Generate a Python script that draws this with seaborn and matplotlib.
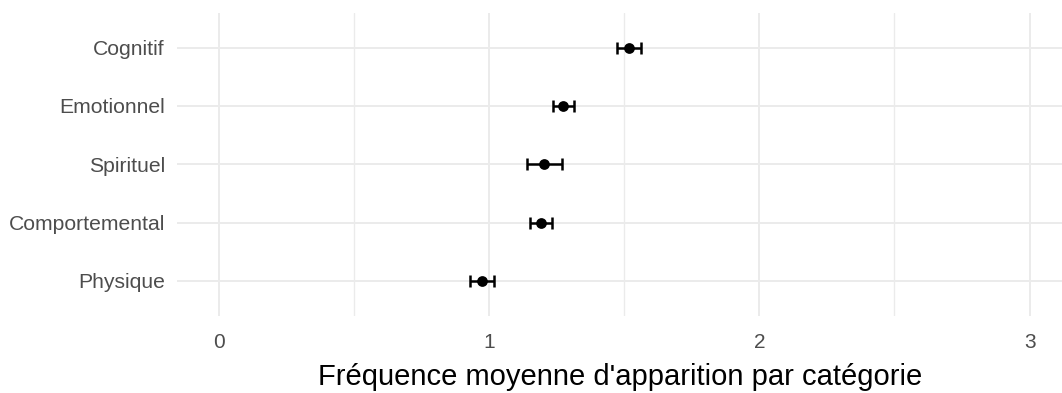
import matplotlib
matplotlib.use("Agg")
import matplotlib.pyplot as plt
import seaborn as sns
import pandas as pd
from matplotlib.ticker import MultipleLocator

categories = ["Cognitif", "Emotionnel", "Spirituel", "Comportemental", "Physique"]
means = [1.518, 1.274, 1.204, 1.192, 0.973]
errors = [0.046, 0.039, 0.065, 0.040, 0.044]
x_ticks = [0, 1, 2, 3]
x_label = "Fréquence moyenne d'apparition par catégorie"

df = pd.DataFrame({"categorie": categories, "moyenne": means, "erreur": errors})

sns.set_theme(style="whitegrid")
plt.rcParams["font.family"] = ["Liberation Sans", "DejaVu Sans"]

fig = plt.figure(figsize=(10.62, 3.93), dpi=100)
ax = fig.add_axes([0.167, 0.196, 0.833, 0.772])

ax.errorbar(df["moyenne"], df["categorie"], xerr=df["erreur"], fmt="none",
            ecolor="black", elinewidth=1.8, capsize=4.3, capthick=1.8, zorder=3)
sns.scatterplot(data=df, x="moyenne", y="categorie", color="black", s=60,
                edgecolor="black", linewidth=0, ax=ax, zorder=4)

ax.set_xlim(-0.153, 3.12)
ax.set_ylim(len(categories) - 0.4, -0.6)
ax.set_xticks(x_ticks)
ax.set_xticklabels([str(t) for t in x_ticks])
ax.xaxis.set_minor_locator(MultipleLocator(0.5))

ax.grid(which="major", axis="both", color="#EBEBEB", linewidth=1.4)
ax.grid(which="minor", axis="x", color="#EBEBEB", linewidth=1.0)
ax.set_axisbelow(True)
for s in ax.spines.values():
    s.set_visible(False)
ax.set_facecolor("white")

ax.tick_params(axis="y", which="both", length=0, pad=9, labelsize=15.2, labelcolor="#4D4D4D")
ax.tick_params(axis="x", which="both", length=0, pad=12, labelsize=15, labelcolor="#4D4D4D")
ax.set_ylabel("")
ax.set_xlabel(x_label, fontsize=21, color="black", labelpad=8)

fig.savefig("out.png", dpi=100, facecolor="white")
